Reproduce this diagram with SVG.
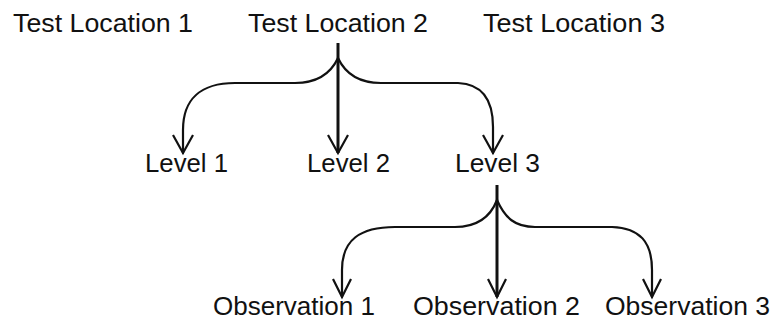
<svg xmlns="http://www.w3.org/2000/svg" width="773" height="323" viewBox="0 0 773 323">
<style>
text{font-family:"Liberation Sans",Arial,sans-serif;font-size:25px;fill:#111;}
.c{fill:none;stroke:#111;stroke-width:2.2;stroke-linecap:round;}
.v{fill:none;stroke:#111;stroke-width:3;}
.ah{fill:none;stroke:#111;stroke-width:2.2;}
</style>
<rect width="773" height="323" fill="#fff"/>
<g id="connectors">
<path class="v" d="M338,43 L338,153"/>
<path class="c" d="M338,58 C330,75 315,83 295,83 L235,83 C200,83 183,100 183,130 L183,153"/>
<path class="c" d="M338,58 C346,75 361,83 381,83 L458,83 C482,84 493,100 493,127 L493,153"/>
<path class="v" d="M497,185 L497,297"/>
<path class="c" d="M497,200 C490,218 475,227 455,227 L395,227 C360,227 342,240 342,270 L342,297"/>
<path class="c" d="M497,200 C505,218 515,227 535,227 L612,227 C640,228 652,242 652,270 L652,297"/>
<path class="ah" d="M173,135 L183,153 L193,135"/>
<path class="ah" d="M328,135 L338,153 L348,135"/>
<path class="ah" d="M483,135 L493,153 L503,135"/>
<path class="ah" d="M333,279 L342,297 L351,279"/>
<path class="ah" d="M488,279 L497,297 L506,279"/>
<path class="ah" d="M643,279 L652,297 L661,279"/>
</g>
<g id="tl1"><text x="13" y="32" textLength="180" lengthAdjust="spacingAndGlyphs">Test Location 1</text></g>
<g id="tl2"><text x="248" y="32" textLength="180" lengthAdjust="spacingAndGlyphs">Test Location 2</text></g>
<g id="tl3"><text x="483" y="32" textLength="182" lengthAdjust="spacingAndGlyphs">Test Location 3</text></g>
<g id="lv1"><text x="145" y="172" textLength="83" lengthAdjust="spacingAndGlyphs">Level 1</text></g>
<g id="lv2"><text x="307" y="172" textLength="83" lengthAdjust="spacingAndGlyphs">Level 2</text></g>
<g id="lv3"><text x="455" y="172" textLength="85" lengthAdjust="spacingAndGlyphs">Level 3</text></g>
<g id="ob1"><text x="213" y="315" textLength="162" lengthAdjust="spacingAndGlyphs">Observation 1</text></g>
<g id="ob2"><text x="413" y="315" textLength="167" lengthAdjust="spacingAndGlyphs">Observation 2</text></g>
<g id="ob3"><text x="605" y="315" textLength="165" lengthAdjust="spacingAndGlyphs">Observation 3</text></g>
</svg>
